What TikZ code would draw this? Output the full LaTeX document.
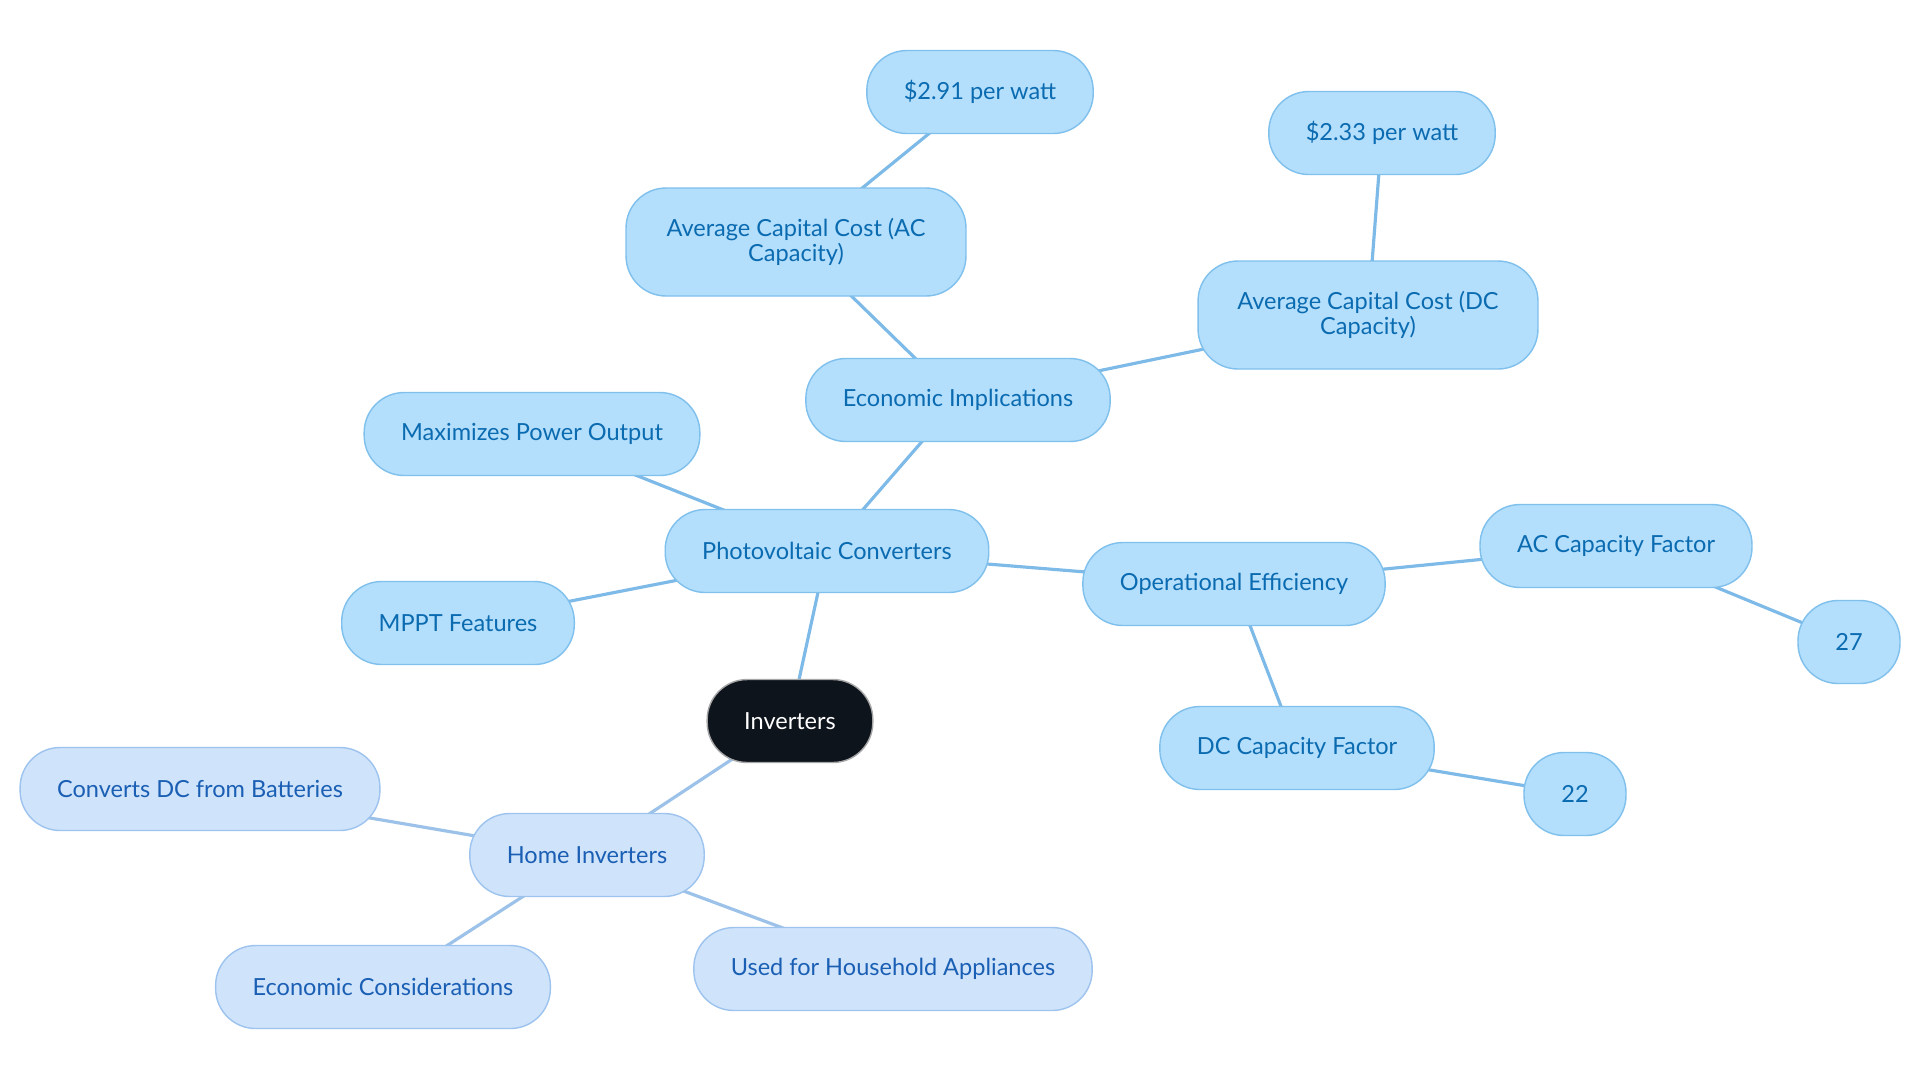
\documentclass[tikz,border=0pt]{standalone}
\usepackage{fontspec}
\setmainfont{Lato}
\usetikzlibrary{backgrounds}
\definecolor{pvfill}{HTML}{B3DEFC}
\definecolor{pvdraw}{HTML}{7FC0EC}
\definecolor{pvtext}{HTML}{0B6BB0}
\definecolor{pvline}{HTML}{7DBAE8}
\definecolor{hofill}{HTML}{CFE3FB}
\definecolor{hodraw}{HTML}{9DC3EE}
\definecolor{hotext}{HTML}{1A5FB4}
\definecolor{holine}{HTML}{9CC2EA}
\definecolor{rootfill}{HTML}{0D141C}
\begin{document}
\begin{tikzpicture}[x=0.02cm,y=-0.02cm,
  base/.style={rounded corners=0.8cm,minimum height=1.66cm,inner xsep=0.74cm,align=center,font=\fontsize{13.4}{14}\selectfont,line width=0.8pt},
  pv/.style={base,fill=pvfill,draw=pvdraw,text=pvtext},
  ho/.style={base,fill=hofill,draw=hodraw,text=hotext},
  root/.style={base,fill=rootfill,draw=gray!70,text=white},
  pvl/.style={draw=pvline,line width=1.8pt},
  hol/.style={draw=holine,line width=1.8pt}]
\useasboundingbox (0,0) rectangle (1920,1083);
% nodes
\node[root] (inv) at (790,721) {Inverters};
\node[pv] (pvc) at (827,551) {Photovoltaic Converters};
\node[pv] (eco) at (958,400) {Economic Implications};
\node[pv,minimum height=2.16cm,minimum width=6.8cm] (acc) at (796,242) {Average Capital Cost (AC\\Capacity)};
\node[pv] (p291) at (980,92) {\$2.91 per watt};
\node[pv,minimum height=2.16cm,minimum width=6.8cm] (dcc) at (1368,315) {Average Capital Cost (DC\\Capacity)};
\node[pv] (p233) at (1382,133) {\$2.33 per watt};
\node[pv] (max) at (532,434) {Maximizes Power Output};
\node[pv] (mppt) at (458,623) {MPPT Features};
\node[pv] (ope) at (1234,584) {Operational Efficiency};
\node[pv] (acf) at (1616,546) {AC Capacity Factor};
\node[pv,minimum width=2.04cm] (n27) at (1849,642) {27};
\node[pv] (dcf) at (1297,748) {DC Capacity Factor};
\node[pv,minimum width=2.04cm] (n22) at (1575,794) {22};
\node[ho] (home) at (587,855) {Home Inverters};
\node[ho] (conv) at (200,789) {Converts DC from Batteries};
\node[ho] (ecc) at (383,987) {Economic Considerations};
\node[ho] (used) at (893,969) {Used for Household Appliances};
% edges
\begin{scope}[on background layer]
\fill[white] (0,0) rectangle (1920,1083);
\draw[pvl] (inv.center) -- (pvc.center);
\draw[pvl] (pvc.center) -- (eco.center);
\draw[pvl] (eco.center) -- (acc.center);
\draw[pvl] (acc.center) -- (p291.center);
\draw[pvl] (eco.center) -- (dcc.center);
\draw[pvl] (dcc.center) -- (p233.center);
\draw[pvl] (pvc.center) -- (max.center);
\draw[pvl] (pvc.center) -- (mppt.center);
\draw[pvl] (pvc.center) -- (ope.center);
\draw[pvl] (ope.center) -- (acf.center);
\draw[pvl] (acf.center) -- (n27.center);
\draw[pvl] (ope.center) -- (dcf.center);
\draw[pvl] (dcf.center) -- (n22.center);
\draw[hol] (inv.center) -- (home.center);
\draw[hol] (home.center) -- (conv.center);
\draw[hol] (home.center) -- (ecc.center);
\draw[hol] (home.center) -- (used.center);
\end{scope}
\end{tikzpicture}
\end{document}
